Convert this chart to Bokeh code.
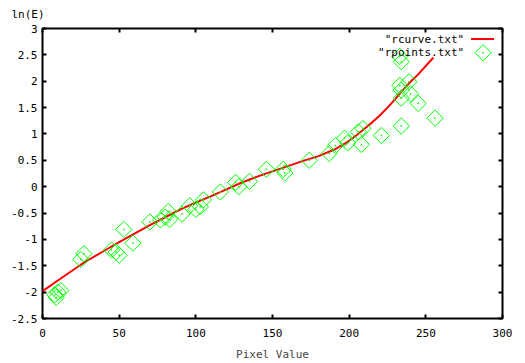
import math
from bokeh.plotting import figure
from bokeh.models import Range1d, LinearAxis, FixedTicker, Label, Title
from bokeh.embed import file_html
from bokeh.resources import INLINE

# response curve (rcurve.txt)
curve_x = [0, 5, 10, 15, 20, 25, 30, 40, 50, 60, 70, 80, 90, 100, 110, 120, 130, 140, 150,
           160, 170, 180, 190, 195, 200, 205, 210, 215, 220, 225, 230, 235, 240, 245, 250, 255]
curve_y = [-1.98, -1.88, -1.78, -1.68, -1.58, -1.48, -1.39, -1.22, -1.05, -0.89, -0.73,
           -0.58, -0.43, -0.30, -0.18, -0.05, 0.08, 0.19, 0.29, 0.39, 0.49, 0.58, 0.70,
           0.78, 0.87, 0.98, 1.10, 1.22, 1.35, 1.50, 1.66, 1.83, 1.99, 2.13, 2.29, 2.45]

# sample points (rpoints.txt)
pts_x = [8, 10, 12, 9, 25, 27, 45, 48, 50, 53, 59,
         70, 77, 80, 82, 83, 91, 96, 100, 103, 105, 116, 126, 128, 135,
         146, 157, 158, 174, 187, 191, 197, 199, 208, 206, 209, 221, 234, 256,
         245, 240, 234, 234, 239, 233, 234, 233]
pts_y = [-2.05, -2.0, -1.97, -2.1, -1.38, -1.27, -1.2, -1.24, -1.3, -0.81, -1.07,
         -0.67, -0.63, -0.58, -0.47, -0.62, -0.52, -0.36, -0.43, -0.38, -0.25, -0.10, 0.08, 0.0, 0.10,
         0.33, 0.33, 0.26, 0.50, 0.63, 0.78, 0.92, 0.83, 0.80, 1.04, 1.10, 0.97, 1.15, 1.30,
         1.58, 1.76, 1.68, 1.83, 1.99, 1.92, 2.37, 2.47]

x_ticks = [0, 50, 100, 150, 200, 250, 300]
x_tick_labels = ["0", "50", "100", "150", "200", "250", "300"]
y_ticks = [-2.5, -2, -1.5, -1, -0.5, 0, 0.5, 1, 1.5, 2, 2.5, 3]
y_tick_labels = ["-2.5", "-2", "-1.5", "-1", "-0.5", "0", "0.5", "1", "1.5", "2", "2.5", "3"]

series_names = ['"rcurve.txt"', '"rpoints.txt"']
x_title = "Pixel Value"
y_title = "ln(E)"

FONT = "DejaVu Sans Mono"
FS = "11px"
RED = "#ff0000"
GREEN = "#00ff00"

p = figure(width=525, height=363, output_backend="svg",
           toolbar_location=None, x_range=Range1d(0, 300), y_range=Range1d(-2.5, 3),
           min_border_left=42, min_border_right=23, min_border_top=28,
           min_border_bottom=45, x_axis_location=None, y_axis_location=None)
p.grid.visible = False
p.outline_line_color = "black"
p.outline_line_width = 2
p.background_fill_color = "white"
p.border_fill_color = "white"


def style_axis(ax, ticks, labels, show):
    ax.ticker = FixedTicker(ticks=ticks)
    ax.axis_line_color = None
    ax.major_tick_in = 4
    ax.major_tick_out = 0
    ax.major_tick_line_color = "black"
    ax.major_tick_line_width = 2
    ax.minor_tick_line_color = None
    ax.major_label_text_font = FONT
    ax.major_label_text_font_size = FS if show else "0px"
    ax.major_label_text_color = "black"
    if show:
        ax.major_label_overrides = {t: l for t, l in zip(ticks, labels)}
    else:
        ax.major_label_standoff = 0
        ax.major_label_text_color = None


xb = LinearAxis()
style_axis(xb, x_ticks, x_tick_labels, True)
xb.major_label_standoff = 10
xb.axis_label = x_title
xb.axis_label_text_font = FONT
xb.axis_label_text_font_size = FS
xb.axis_label_text_font_style = "normal"
xb.axis_label_standoff = 8
p.add_layout(xb, "below")

xt = LinearAxis()
style_axis(xt, x_ticks, x_tick_labels, False)
p.add_layout(xt, "above")

yl = LinearAxis()
style_axis(yl, y_ticks, y_tick_labels, True)
yl.major_label_standoff = 5
p.add_layout(yl, "left")

yr = LinearAxis()
style_axis(yr, y_ticks, y_tick_labels, False)
p.add_layout(yr, "right")

# y title on top-left
p.add_layout(Title(text=y_title, align="left", offset=-31, standoff=12,
                   vertical_align="top",
                   text_font=FONT, text_font_size=FS, text_font_style="normal",
                   text_color="black"), "above")

# data
p.line(curve_x, curve_y, line_color=RED, line_width=2)
p.scatter(pts_x, pts_y, marker="square", size=11.5, angle=math.pi / 4,
          fill_color=None, line_color=GREEN, line_width=1)
p.scatter(pts_x, pts_y, marker="square", size=1.5, fill_color=GREEN,
          line_color=None)

# gnuplot-style key (label left, sample right)
key_text_x = 275
key_rows = [2.80, 2.54]
for name, ky in zip(series_names, key_rows):
    p.add_layout(Label(x=key_text_x, y=ky, text=name, text_font=FONT,
                       text_font_size=FS, text_align="right",
                       text_baseline="middle", text_color="black"))
p.line([279.5, 294.5], [key_rows[0], key_rows[0]], line_color=RED, line_width=2)
p.scatter([287.3], [key_rows[1]], marker="square", size=11.5, angle=math.pi / 4,
          fill_color=None, line_color=GREEN, line_width=1)
p.scatter([287.3], [key_rows[1]], marker="square", size=1.5, fill_color=GREEN,
          line_color=None)

open("out.html", "w").write(file_html(p, INLINE))
